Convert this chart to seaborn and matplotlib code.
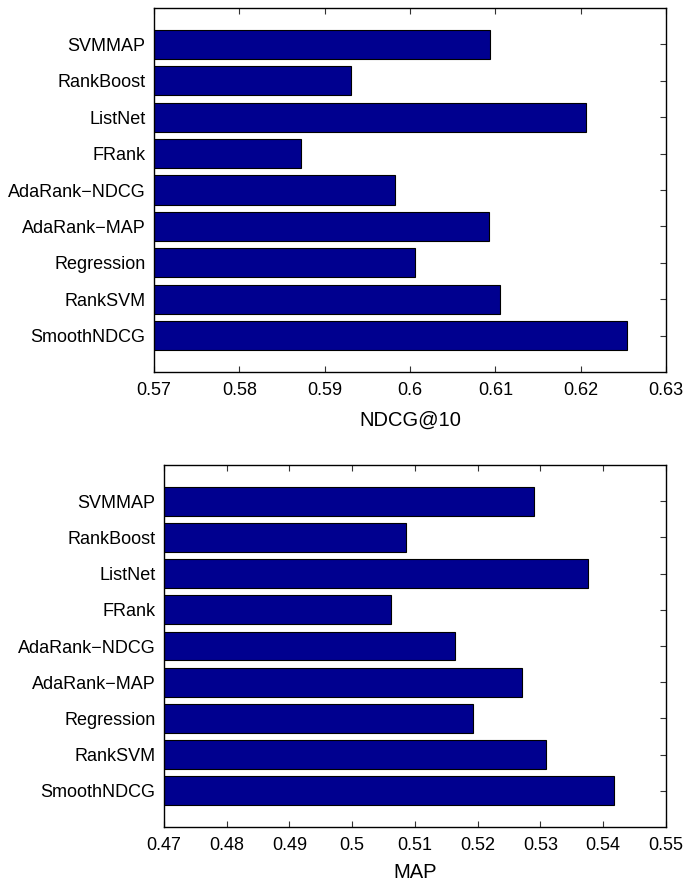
import matplotlib
matplotlib.use("Agg")
import matplotlib.pyplot as plt
import seaborn as sns
import pandas as pd

# Ranking methods (top to bottom) and their scores
methods = ["SVMMAP", "RankBoost", "ListNet", "FRank", "AdaRank\u2212NDCG",
           "AdaRank\u2212MAP", "Regression", "RankSVM", "SmoothNDCG"]
ndcg10 = [0.6094, 0.5931, 0.6206, 0.5872, 0.5982, 0.6092, 0.6006, 0.6106, 0.6254]
map_scores = [0.5290, 0.5086, 0.5375, 0.5061, 0.5164, 0.5271, 0.5193, 0.5309, 0.5417]

ndcg_ticks = [0.57, 0.58, 0.59, 0.60, 0.61, 0.62, 0.63]
ndcg_ticklabels = ["0.57", "0.58", "0.59", "0.6", "0.61", "0.62", "0.63"]
map_ticks = [0.47, 0.48, 0.49, 0.50, 0.51, 0.52, 0.53, 0.54, 0.55]
map_ticklabels = ["0.47", "0.48", "0.49", "0.5", "0.51", "0.52", "0.53", "0.54", "0.55"]

sns.set_style("white")
plt.rcParams["font.family"] = ["Liberation Sans", "DejaVu Sans"]
plt.rcParams["text.color"] = "black"
plt.rcParams["axes.labelcolor"] = "black"
plt.rcParams["xtick.color"] = "black"
plt.rcParams["ytick.color"] = "black"

BAR = "#00008F"

fig = plt.figure(figsize=(6.87, 8.83), dpi=100)
ax1 = fig.add_axes([0.2242, 0.5787, 0.7453, 0.4122])
ax2 = fig.add_axes([0.2387, 0.0634, 0.7307, 0.4100])

panels = [
    (ax1, ndcg10, "NDCG@10", ndcg_ticks, ndcg_ticklabels, 9),
    (ax2, map_scores, "MAP", map_ticks, map_ticklabels, 6.5),
]

for ax, vals, label, ticks, ticklabels, lpad in panels:
    df = pd.DataFrame({"method": methods, "score": vals})
    sns.barplot(data=df, x="score", y="method", order=methods, orient="h",
                color=BAR, saturation=1, width=0.8, edgecolor="black",
                linewidth=0.8, ax=ax)
    ax.set_xlim(ticks[0], ticks[-1])
    ax.set_ylim(len(methods), -1)
    ax.set_xticks(ticks)
    ax.set_xticklabels(ticklabels)
    ax.set_xlabel(label, fontsize=14.5, labelpad=lpad, color="black")
    ax.set_ylabel("")
    for sp in ax.spines.values():
        sp.set_visible(True)
        sp.set_color("black")
        sp.set_linewidth(1.0)
    ax.tick_params(axis="both", direction="in", length=4.5, width=0.8,
                   color="#333333", labelcolor="black", labelsize=13,
                   top=True, right=True, bottom=True, left=True)
    ax.tick_params(axis="x", pad=7)
    ax.tick_params(axis="y", pad=6)

fig.savefig("out.png", dpi=100, facecolor="white")
